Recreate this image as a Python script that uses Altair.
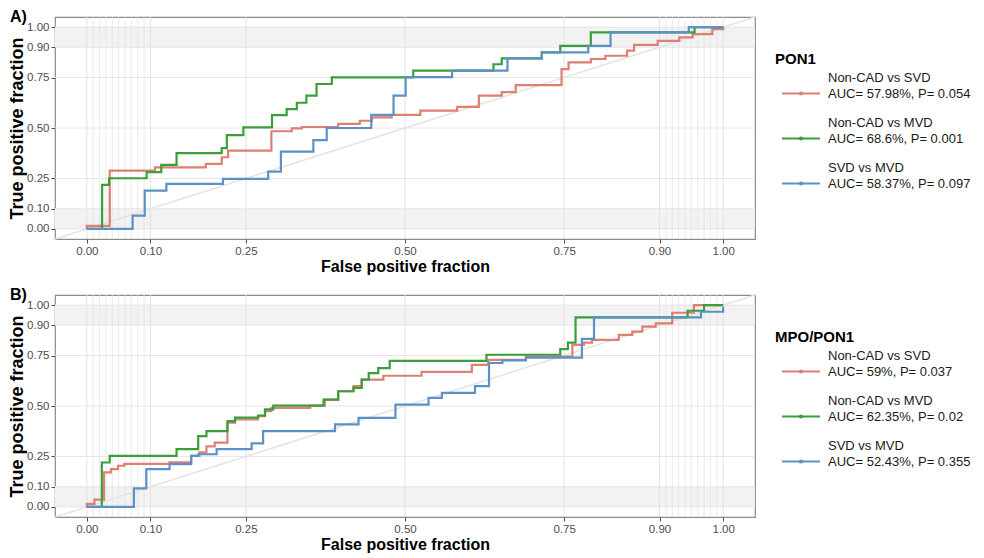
import altair as alt
import pandas as pd

FONT = "Liberation Sans"
BREAKS = [0.0, 0.10, 0.25, 0.50, 0.75, 0.90, 1.00]
LO, HI = -0.05, 1.05
W, H = 700, 222

GROUPS = ["Non-CAD vs SVD", "Non-CAD vs MVD", "SVD vs MVD"]
COLORS = ["#DE7F72", "#3A9E3A", "#5B91C5"]

# ---------------- Panel A : PON1 ----------------
A_LABEL = "A)"
A_TITLE = "PON1"
A_AUC = ["AUC= 57.98%, P= 0.054", "AUC= 68.6%, P= 0.001", "AUC= 58.37%, P= 0.097"]

A_RED_X = [0, 0, 0.036, 0.107, 0.187, 0.212, 0.222, 0.290, 0.322, 0.338, 0.395, 0.429, 0.448,
           0.479, 0.524, 0.582, 0.616, 0.652, 0.674, 0.746, 0.757, 0.792, 0.815, 0.849, 0.860,
           0.897, 0.931, 0.952, 0.983, 1.0]
A_RED_Y = [0, 0.015, 0.289, 0.305, 0.322, 0.355, 0.388, 0.484, 0.498, 0.505, 0.52, 0.536, 0.553,
           0.565, 0.586, 0.605, 0.66, 0.678, 0.712, 0.792, 0.825, 0.842, 0.858, 0.883, 0.912,
           0.932, 0.949, 0.965, 0.99, 1.0]

A_GREEN_X = [0, 0.024, 0.035, 0.094, 0.117, 0.141, 0.212, 0.22, 0.246, 0.291, 0.314, 0.33, 0.345,
             0.361, 0.385, 0.513, 0.639, 0.652, 0.715, 0.744, 0.792, 0.955, 1.0]
A_GREEN_Y = [0, 0.218, 0.251, 0.281, 0.317, 0.376, 0.40, 0.465, 0.503, 0.564, 0.594, 0.625, 0.66,
             0.718, 0.751, 0.784, 0.816, 0.845, 0.875, 0.907, 0.974, 1.0, 1.0]

A_BLUE_X = [0, 0.072, 0.091, 0.125, 0.214, 0.285, 0.305, 0.356, 0.377, 0.447, 0.482, 0.501, 0.574,
            0.661, 0.715, 0.788, 0.823, 0.946, 1.0]
A_BLUE_Y = [0, 0.066, 0.19, 0.223, 0.248, 0.284, 0.383, 0.44, 0.50, 0.565, 0.66, 0.752, 0.784,
            0.845, 0.875, 0.907, 0.974, 1.0, 1.0]

# ---------------- Panel B : MPO/PON1 ----------------
B_LABEL = "B)"
B_TITLE = "MPO/PON1"
B_AUC = ["AUC= 59%, P= 0.037", "AUC= 62.35%, P= 0.02", "AUC= 52.43%, P= 0.355"]

B_RED_X = [0, 0, 0.012, 0.027, 0.038, 0.049, 0.059, 0.130, 0.164, 0.177, 0.188, 0.201, 0.221,
           0.233, 0.269, 0.28, 0.29, 0.351, 0.374, 0.395, 0.419, 0.432, 0.466, 0.526, 0.605,
           0.631, 0.69, 0.763, 0.781, 0.794, 0.836, 0.857, 0.873, 0.894, 0.92, 0.954, 1.0]
B_RED_Y = [0, 0.015, 0.036, 0.171, 0.187, 0.204, 0.213, 0.221, 0.253, 0.27, 0.30, 0.319, 0.417,
           0.433, 0.45, 0.475, 0.49, 0.502, 0.532, 0.573, 0.598, 0.631, 0.65, 0.669, 0.704,
           0.729, 0.745, 0.803, 0.814, 0.828, 0.852, 0.869, 0.893, 0.909, 0.962, 1.0, 1.0]

B_GREEN_X = [0, 0.0236, 0.036, 0.141, 0.175, 0.188, 0.221, 0.233, 0.269, 0.28, 0.293, 0.372, 0.395,
             0.419, 0.432, 0.443, 0.458, 0.476, 0.628, 0.744, 0.756, 0.768, 0.944, 0.97, 1.0]
B_GREEN_Y = [0, 0.22, 0.253, 0.286, 0.351, 0.376, 0.425, 0.442, 0.453, 0.483, 0.502, 0.532, 0.573,
             0.59, 0.631, 0.663, 0.688, 0.724, 0.754, 0.782, 0.814, 0.939, 0.972, 1.0, 1.0]

B_BLUE_X = [0, 0.074, 0.0935, 0.130, 0.164, 0.175, 0.204, 0.259, 0.277, 0.39, 0.427, 0.485, 0.537,
            0.558, 0.61, 0.632, 0.653, 0.69, 0.778, 0.797, 0.965, 1.0]
B_BLUE_Y = [0, 0.092, 0.187, 0.212, 0.253, 0.261, 0.286, 0.315, 0.376, 0.409, 0.441, 0.507, 0.54,
            0.565, 0.598, 0.713, 0.726, 0.74, 0.833, 0.939, 0.967, 0.992]

# ---------------- helpers ----------------
MINOR = [round(0.01 * k, 2) for k in range(1, 10)] + [round(0.90 + 0.01 * k, 2) for k in range(1, 10)]
BANDS = pd.DataFrame({"y": [0.0, 0.90], "y2": [0.10, 1.00]})

xs = alt.Scale(domain=[LO, HI], nice=False, zero=False)
ys = alt.Scale(domain=[LO, HI], nice=False, zero=False)
X = alt.X("x:Q", scale=xs, axis=alt.Axis(values=BREAKS, format=".2f", title="False positive fraction"))
Y = alt.Y("y:Q", scale=ys, axis=alt.Axis(values=BREAKS, format=".2f", title="True positive fraction"))
COLOR = alt.Color("group:N", scale=alt.Scale(domain=GROUPS, range=COLORS), legend=None)


def curves_df(series):
    rows = []
    for g, (xv, yv) in zip(GROUPS, series):
        for i, (a, b) in enumerate(zip(xv, yv)):
            rows.append({"group": g, "i": i, "x": a, "y": b})
    return pd.DataFrame(rows)


def plot_panel(label, series):
    bands = alt.Chart(BANDS).mark_rect(color="#f2f2f2").encode(
        x=alt.value(0), x2=alt.value(W), y=Y, y2="y2:Q")
    minor = alt.Chart(pd.DataFrame({"x": MINOR})).mark_rule(
        color="#e4e4e4", strokeWidth=0.8).encode(x=X)
    vmaj = alt.Chart(pd.DataFrame({"x": BREAKS})).mark_rule(
        color="#e2e2e2", strokeWidth=1).encode(x=X)
    hmaj = alt.Chart(pd.DataFrame({"y": BREAKS})).mark_rule(
        color="#e6e6e6", strokeWidth=1).encode(y=Y)
    diag = alt.Chart(pd.DataFrame({"x": [LO], "y": [LO], "x2": [HI], "y2": [HI]})).mark_rule(
        color="#e3e3e3", strokeWidth=1.5).encode(x=X, y=Y, x2="x2:Q", y2="y2:Q")
    lines = alt.Chart(curves_df(series)).mark_line(
        interpolate="step-after", strokeWidth=2.2).encode(
        x=X, y=Y, color=COLOR, order="i:Q")
    tag = alt.Chart(pd.DataFrame({"t": [label]})).mark_text(
        font=FONT, fontSize=16, fontWeight="bold", align="left", baseline="middle",
        color="black").encode(text="t:N", x=alt.value(-45), y=alt.value(0))
    return alt.layer(bands, minor, vmaj, hmaj, diag, lines, tag).properties(width=W, height=H)


def legend_panel(title, aucs):
    lo = -76.5 / 45.0
    hi = lo + H / 45.0
    ly = alt.Y("idx:Q", scale=alt.Scale(domain=[lo, hi], reverse=True, nice=False, zero=False), axis=None)
    df = pd.DataFrame({"idx": list(range(len(GROUPS))), "group": GROUPS, "auc": aucs})
    base = alt.Chart(df)
    rule = base.mark_rule(strokeWidth=2).encode(x=alt.value(7), x2=alt.value(45), y=ly, color=COLOR)
    dot = base.mark_point(filled=True, size=18, opacity=1).encode(x=alt.value(26), y=ly, color=COLOR)
    t1 = base.mark_text(font=FONT, fontSize=13, align="left", baseline="middle", dy=-16,
                        color="#1a1a1a").encode(x=alt.value(53), y=ly, text="group:N")
    t2 = base.mark_text(font=FONT, fontSize=13, align="left", baseline="middle",
                        color="#1a1a1a").encode(x=alt.value(53), y=ly, text="auc:N")
    ttl = alt.Chart(pd.DataFrame({"t": [title]})).mark_text(
        font=FONT, fontSize=15, fontWeight="bold", align="left", baseline="middle",
        color="black").encode(text="t:N", x=alt.value(0), y=alt.value(41.5))
    return alt.layer(rule, dot, t1, t2, ttl).properties(
        width=180, height=H, view=alt.ViewBackground(strokeOpacity=0))


rowA = alt.hconcat(
    plot_panel(A_LABEL, [(A_RED_X, A_RED_Y), (A_GREEN_X, A_GREEN_Y), (A_BLUE_X, A_BLUE_Y)]),
    legend_panel(A_TITLE, A_AUC), spacing=18)
rowB = alt.hconcat(
    plot_panel(B_LABEL, [(B_RED_X, B_RED_Y), (B_GREEN_X, B_GREEN_Y), (B_BLUE_X, B_BLUE_Y)]),
    legend_panel(B_TITLE, B_AUC), spacing=18)

chart = alt.vconcat(rowA, rowB, spacing=10).properties(
    padding={"left": 0, "top": 0, "right": 0, "bottom": 0}
).configure_view(
    stroke="#8a8a8a", strokeWidth=1.2
).configure_axis(
    labelFont=FONT, titleFont=FONT, labelFontSize=11.5, labelColor="#4d4d4d",
    tickColor="#4d4d4d", tickSize=4, domain=False, grid=False,
    titleFontWeight="bold", titleColor="black", labelPadding=2
).configure_axisX(
    titleFontSize=16, titlePadding=2
).configure_axisY(
    titleFontSize=18, titlePadding=0
)

chart.save("out.html", embed_options={"renderer": "svg", "actions": False})
